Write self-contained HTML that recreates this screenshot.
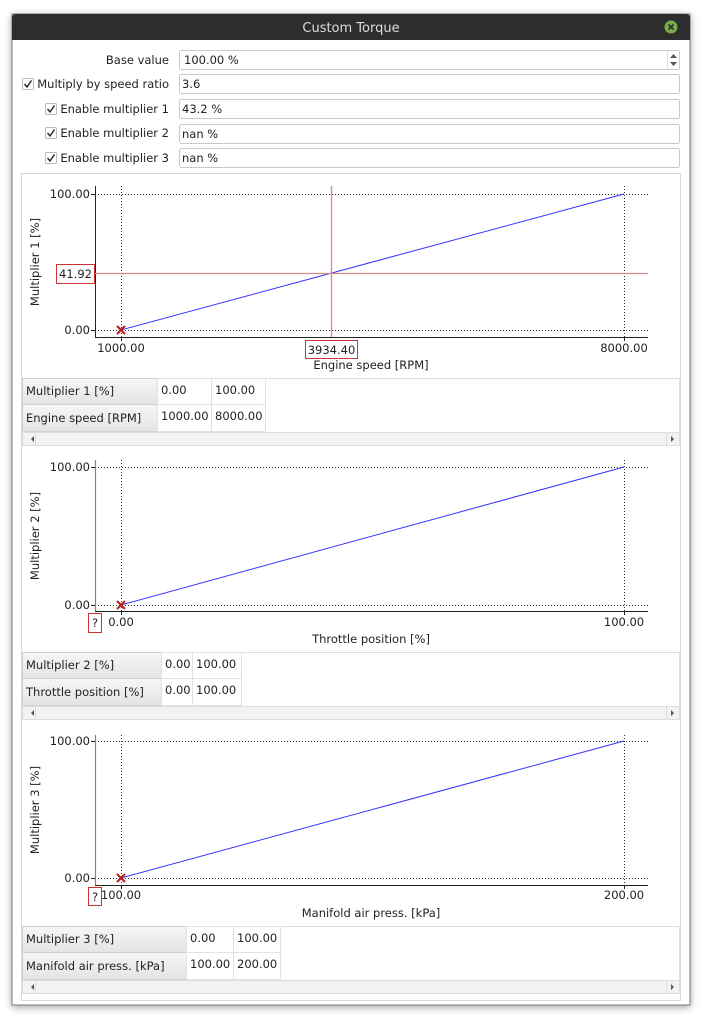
<!DOCTYPE html>
<html><head><meta charset="utf-8"><style>
html,body{margin:0;padding:0;background:#fff;}
svg{display:block;}
text{font-family:"DejaVu Sans","Liberation Sans",sans-serif;font-size:11.5px;fill:#222;}
</style></head><body>
<svg width="706" height="1024" viewBox="0 0 706 1024" xmlns="http://www.w3.org/2000/svg">
<defs>
<linearGradient id="hg" x1="0" y1="0" x2="0" y2="1"><stop offset="0" stop-color="#f6f6f6"/><stop offset="1" stop-color="#e4e4e4"/></linearGradient>
<filter id="sh" x="-5%" y="-5%" width="110%" height="110%"><feDropShadow dx="0" dy="2" stdDeviation="4" flood-color="#000" flood-opacity="0.35"/></filter>
</defs>
<rect width="706" height="1024" fill="#fff"/>
<!-- window -->
<rect x="12" y="14" width="678" height="991" fill="#fff" stroke="#777" stroke-width="1" filter="url(#sh)"/>
<path d="M12 40 V18 Q12 14 16 14 H686 Q690 14 690 18 V40 Z" fill="#2d2d2d"/>
<text x="351" y="32" text-anchor="middle" style="fill:#dcdcdc;font-size:13px">Custom Torque</text>
<circle cx="671" cy="27" r="6.5" fill="#7aaa4c"/>
<path d="M668.5 24.5 L673.5 29.5 M673.5 24.5 L668.5 29.5" stroke="#2d2d2d" stroke-width="1.6"/>

<!-- form -->
<g>
<text x="169" y="64" text-anchor="end">Base value</text>
<rect x="179.5" y="50.5" width="500" height="19" rx="2" fill="#fff" stroke="#c8c8c8"/>
<text x="184" y="64">100.00 %</text>
<line x1="667.5" y1="51" x2="667.5" y2="69" stroke="#ddd"/>
<path d="M670 58 L673.5 54 L677 58 Z M670 62 L673.5 66 L677 62 Z" fill="#555"/>

<rect x="22.5" y="78.5" width="11" height="11" rx="1" fill="#fff" stroke="#bbb"/>
<path d="M24.5 84 L27 87 L31.5 80.5" stroke="#222" stroke-width="1.4" fill="none"/>
<text x="169" y="88" text-anchor="end">Multiply by speed ratio</text>
<rect x="179.5" y="74.5" width="500" height="19" rx="2" fill="#fff" stroke="#c8c8c8"/>
<text x="182" y="88">3.6</text>

<rect x="45.5" y="103.5" width="11" height="11" rx="1" fill="#fff" stroke="#bbb"/>
<path d="M47.5 109 L50 112 L54.5 105.5" stroke="#222" stroke-width="1.4" fill="none"/>
<text x="169" y="113" text-anchor="end">Enable multiplier 1</text>
<rect x="179.5" y="99.5" width="500" height="19" rx="2" fill="#fff" stroke="#c8c8c8"/>
<text x="182" y="113">43.2 %</text>

<rect x="45.5" y="127.5" width="11" height="11" rx="1" fill="#fff" stroke="#bbb"/>
<path d="M47.5 133 L50 136 L54.5 129.5" stroke="#222" stroke-width="1.4" fill="none"/>
<text x="169" y="137" text-anchor="end">Enable multiplier 2</text>
<rect x="179.5" y="124.5" width="500" height="19" rx="2" fill="#fff" stroke="#c8c8c8"/>
<text x="182" y="138">nan %</text>

<rect x="45.5" y="152.5" width="11" height="11" rx="1" fill="#fff" stroke="#bbb"/>
<path d="M47.5 158 L50 161 L54.5 154.5" stroke="#222" stroke-width="1.4" fill="none"/>
<text x="169" y="162" text-anchor="end">Enable multiplier 3</text>
<rect x="179.5" y="148.5" width="500" height="19" rx="2" fill="#fff" stroke="#c8c8c8"/>
<text x="182" y="162">nan %</text>
</g>

<!-- panel -->
<rect x="21.5" y="173.5" width="659" height="827" fill="#fff" stroke="#d8d8d8"/>

<!-- CHART 1 -->
<g>
<line x1="121.5" y1="186" x2="121.5" y2="337" stroke="#333" stroke-dasharray="1,2"/>
<line x1="624.5" y1="186" x2="624.5" y2="337" stroke="#333" stroke-dasharray="1,2"/>
<line x1="95" y1="194.5" x2="648" y2="194.5" stroke="#333" stroke-dasharray="1,2"/>
<line x1="95" y1="330.5" x2="648" y2="330.5" stroke="#333" stroke-dasharray="1,2"/>
<line x1="95.5" y1="186" x2="95.5" y2="337.5" stroke="#222"/>
<line x1="95" y1="337.5" x2="648" y2="337.5" stroke="#222"/>
<line x1="91" y1="194.5" x2="95" y2="194.5" stroke="#222"/><line x1="91" y1="330.5" x2="95" y2="330.5" stroke="#222"/>
<line x1="121.5" y1="337" x2="121.5" y2="341" stroke="#222"/><line x1="624.5" y1="337" x2="624.5" y2="341" stroke="#222"/>
<line x1="121" y1="330" x2="624" y2="194" stroke="#33f" stroke-width="1"/>
<line x1="331.5" y1="186" x2="331.5" y2="337" stroke="#d88" stroke-width="1.3"/>
<line x1="95" y1="273.5" x2="648" y2="273.5" stroke="#d88" stroke-width="1.3"/>
<text x="90" y="198" text-anchor="end">100.00</text>
<text x="90" y="334" text-anchor="end">0.00</text>
<rect x="56.5" y="264.5" width="38" height="19" fill="#fff" stroke="#c33"/>
<text x="75.5" y="278" text-anchor="middle">41.92</text>
<rect x="305.5" y="340.5" width="52" height="18" fill="#fff" stroke="#c33"/>
<text x="331.5" y="354" text-anchor="middle">3934.40</text>
<text x="121" y="352" text-anchor="middle">1000.00</text>
<text x="624" y="352" text-anchor="middle">8000.00</text>
<text x="371" y="369" text-anchor="middle">Engine speed [RPM]</text>
<text transform="translate(39,262) rotate(-90)" text-anchor="middle">Multiplier 1 [%]</text>
<path d="M117 326 L125 334 M125 326 L117 334" stroke="#b22" stroke-width="2.2"/>
</g>
<!-- TABLE 1 -->
<g>
<rect x="22.5" y="378.5" width="657" height="67" fill="#fff" stroke="#ddd"/>
<rect x="22.5" y="378.5" width="135" height="26" fill="url(#hg)" stroke="#d0d0d0"/>
<rect x="22.5" y="404.5" width="135" height="27" fill="url(#hg)" stroke="#d0d0d0"/>
<rect x="157.5" y="378.5" width="54" height="26" fill="#fff" stroke="#e2e2e2"/>
<rect x="211.5" y="378.5" width="54" height="26" fill="#fff" stroke="#e2e2e2"/>
<rect x="157.5" y="404.5" width="54" height="27" fill="#fff" stroke="#e2e2e2"/>
<rect x="211.5" y="404.5" width="54" height="27" fill="#fff" stroke="#e2e2e2"/>
<text x="26" y="395">Multiplier 1 [%]</text>
<text x="26" y="422">Engine speed [RPM]</text>
<text x="161" y="394">0.00</text><text x="215" y="394">100.00</text>
<text x="161" y="420">1000.00</text><text x="215" y="420">8000.00</text>
<rect x="22.5" y="432.5" width="657" height="13" fill="#f2f2f2" stroke="#ddd"/>
<path d="M31 439 L34 436 L34 442 Z M671 436 L674 439 L671 442 Z" fill="#555"/>
<line x1="35.5" y1="433" x2="35.5" y2="445" stroke="#ddd"/><line x1="666.5" y1="433" x2="666.5" y2="445" stroke="#ddd"/>
</g>

<!-- CHART 2 -->
<g>
<line x1="121.5" y1="460" x2="121.5" y2="611" stroke="#333" stroke-dasharray="1,2"/>
<line x1="624.5" y1="460" x2="624.5" y2="611" stroke="#333" stroke-dasharray="1,2"/>
<line x1="95" y1="467.5" x2="648" y2="467.5" stroke="#333" stroke-dasharray="1,2"/>
<line x1="95" y1="605.5" x2="648" y2="605.5" stroke="#333" stroke-dasharray="1,2"/>
<line x1="95" y1="611.5" x2="648" y2="611.5" stroke="#222"/>
<line x1="95.5" y1="460" x2="95.5" y2="611" stroke="#c66" stroke-width="1.2"/>
<line x1="91" y1="467.5" x2="95" y2="467.5" stroke="#222"/><line x1="91" y1="605.5" x2="95" y2="605.5" stroke="#222"/>
<line x1="121.5" y1="611" x2="121.5" y2="615" stroke="#222"/><line x1="624.5" y1="611" x2="624.5" y2="615" stroke="#222"/>
<line x1="121" y1="605" x2="624" y2="467" stroke="#33f"/>
<text x="90" y="471" text-anchor="end">100.00</text>
<text x="90" y="609" text-anchor="end">0.00</text>
<rect x="88.5" y="613.5" width="13" height="19" fill="#fff" stroke="#c33"/>
<text x="95" y="627" text-anchor="middle">?</text>
<text x="121" y="626" text-anchor="middle">0.00</text>
<text x="624" y="626" text-anchor="middle">100.00</text>
<text x="371" y="643" text-anchor="middle">Throttle position [%]</text>
<text transform="translate(39,536) rotate(-90)" text-anchor="middle">Multiplier 2 [%]</text>
<path d="M117 601 L125 609 M125 601 L117 609" stroke="#b22" stroke-width="2.2"/>
</g>
<!-- TABLE 2 -->
<g>
<rect x="22.5" y="652.5" width="657" height="67" fill="#fff" stroke="#ddd"/>
<rect x="22.5" y="652.5" width="139" height="26" fill="url(#hg)" stroke="#d0d0d0"/>
<rect x="22.5" y="678.5" width="139" height="27" fill="url(#hg)" stroke="#d0d0d0"/>
<rect x="161.5" y="652.5" width="31" height="26" fill="#fff" stroke="#e2e2e2"/>
<rect x="192.5" y="652.5" width="49" height="26" fill="#fff" stroke="#e2e2e2"/>
<rect x="161.5" y="678.5" width="31" height="27" fill="#fff" stroke="#e2e2e2"/>
<rect x="192.5" y="678.5" width="49" height="27" fill="#fff" stroke="#e2e2e2"/>
<text x="26" y="669">Multiplier 2 [%]</text>
<text x="26" y="696">Throttle position [%]</text>
<text x="165" y="668">0.00</text><text x="196" y="668">100.00</text>
<text x="165" y="694">0.00</text><text x="196" y="694">100.00</text>
<rect x="22.5" y="706.5" width="657" height="13" fill="#f2f2f2" stroke="#ddd"/>
<path d="M31 713 L34 710 L34 716 Z M671 710 L674 713 L671 716 Z" fill="#555"/>
<line x1="35.5" y1="707" x2="35.5" y2="719" stroke="#ddd"/><line x1="666.5" y1="707" x2="666.5" y2="719" stroke="#ddd"/>
</g>

<!-- CHART 3 -->
<g>
<line x1="121.5" y1="735" x2="121.5" y2="885" stroke="#333" stroke-dasharray="1,2"/>
<line x1="624.5" y1="735" x2="624.5" y2="885" stroke="#333" stroke-dasharray="1,2"/>
<line x1="95" y1="741.5" x2="648" y2="741.5" stroke="#333" stroke-dasharray="1,2"/>
<line x1="95" y1="878.5" x2="648" y2="878.5" stroke="#333" stroke-dasharray="1,2"/>
<line x1="95" y1="885.5" x2="648" y2="885.5" stroke="#222"/>
<line x1="95.5" y1="735" x2="95.5" y2="885" stroke="#c66" stroke-width="1.2"/>
<line x1="91" y1="741.5" x2="95" y2="741.5" stroke="#222"/><line x1="91" y1="878.5" x2="95" y2="878.5" stroke="#222"/>
<line x1="121.5" y1="885" x2="121.5" y2="889" stroke="#222"/><line x1="624.5" y1="885" x2="624.5" y2="889" stroke="#222"/>
<line x1="121" y1="878" x2="624" y2="741" stroke="#33f"/>
<text x="90" y="745" text-anchor="end">100.00</text>
<text x="90" y="882" text-anchor="end">0.00</text>
<rect x="88.5" y="887.5" width="13" height="18" fill="#fff" stroke="#c33"/>
<text x="95" y="901" text-anchor="middle">?</text>
<text x="121" y="899" text-anchor="middle">100.00</text>
<text x="624" y="899" text-anchor="middle">200.00</text>
<text x="371" y="917" text-anchor="middle">Manifold air press. [kPa]</text>
<text transform="translate(39,810) rotate(-90)" text-anchor="middle">Multiplier 3 [%]</text>
<path d="M117 874 L125 882 M125 874 L117 882" stroke="#b22" stroke-width="2.2"/>
</g>
<!-- TABLE 3 -->
<g>
<rect x="22.5" y="926.5" width="657" height="67" fill="#fff" stroke="#ddd"/>
<rect x="22.5" y="926.5" width="164" height="26" fill="url(#hg)" stroke="#d0d0d0"/>
<rect x="22.5" y="952.5" width="164" height="27" fill="url(#hg)" stroke="#d0d0d0"/>
<rect x="186.5" y="926.5" width="47" height="26" fill="#fff" stroke="#e2e2e2"/>
<rect x="233.5" y="926.5" width="47" height="26" fill="#fff" stroke="#e2e2e2"/>
<rect x="186.5" y="952.5" width="47" height="27" fill="#fff" stroke="#e2e2e2"/>
<rect x="233.5" y="952.5" width="47" height="27" fill="#fff" stroke="#e2e2e2"/>
<text x="26" y="943">Multiplier 3 [%]</text>
<text x="26" y="970">Manifold air press. [kPa]</text>
<text x="190" y="942">0.00</text><text x="237" y="942">100.00</text>
<text x="190" y="968">100.00</text><text x="237" y="968">200.00</text>
<rect x="22.5" y="980.5" width="657" height="13" fill="#f2f2f2" stroke="#ddd"/>
<path d="M31 987 L34 984 L34 990 Z M671 984 L674 987 L671 990 Z" fill="#555"/>
<line x1="35.5" y1="981" x2="35.5" y2="993" stroke="#ddd"/><line x1="666.5" y1="981" x2="666.5" y2="993" stroke="#ddd"/>
</g>
</svg>
</body></html>
